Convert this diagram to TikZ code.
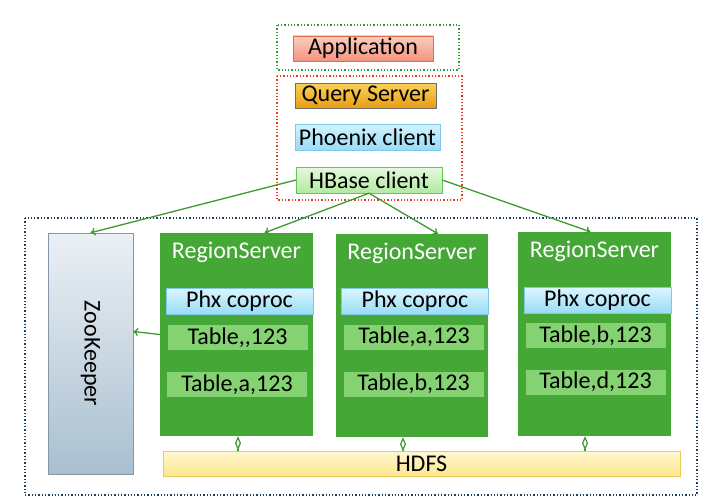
\documentclass[tikz,border=0pt]{standalone}
\usepackage{fontspec}
\setmainfont{Carlito}
\usepackage{tikz}
\usetikzlibrary{arrows.meta,positioning}
\definecolor{framegreen}{HTML}{2F9B34}
\definecolor{framered}{HTML}{E2401C}
\definecolor{frameblue}{HTML}{1F3D5C}
\definecolor{rsgreen}{HTML}{45A836}
\definecolor{rowgreen}{HTML}{84D271}
\definecolor{linkgreen}{HTML}{3C9A2E}
\definecolor{apptop}{HTML}{FBCDC2}
\definecolor{appbot}{HTML}{F4937E}
\definecolor{appline}{HTML}{E46C45}
\definecolor{qstop}{HTML}{FAD15A}
\definecolor{qsbot}{HTML}{E89E12}
\definecolor{qsline}{HTML}{6F6F6F}
\definecolor{pctop}{HTML}{D2F3FD}
\definecolor{pcbot}{HTML}{98DCF6}
\definecolor{pcline}{HTML}{7FC8E6}
\definecolor{hbtop}{HTML}{E4F9DC}
\definecolor{hbbot}{HTML}{B2E9A2}
\definecolor{hbline}{HTML}{6CC25A}
\definecolor{zktop}{HTML}{EBF0F5}
\definecolor{zkbot}{HTML}{A9BFCF}
\definecolor{zkline}{HTML}{8497A8}
\definecolor{hdtop}{HTML}{FFF8D2}
\definecolor{hdbot}{HTML}{FCE68E}
\definecolor{hdline}{HTML}{EEC95A}

\begin{document}
\begin{tikzpicture}[x=1pt,y=-1pt,
  box/.style={rectangle,inner sep=0pt,font=\fontsize{24}{26}\selectfont},
  clientbox/.style={box,minimum height=25pt},
  rsbox/.style={box,fill=rsgreen,minimum width=153pt,minimum height=203pt},
  rstitle/.style={box,text=white},
  phxbox/.style={box,draw=pcline,top color=pctop!80!white,bottom color=pcbot,minimum width=147pt,minimum height=26pt},
  rowbox/.style={box,fill=rowgreen,minimum width=140pt,minimum height=25pt},
  link/.style={linkgreen,line width=1.3pt,-{To[length=5pt,width=8pt]}},
  hdfslink/.style={linkgreen,line width=1.2pt,{Diamond[open,length=14pt,width=6pt]}-}]
\useasboundingbox (0,0) rectangle (720,503);
%dotted frames
\draw[framegreen,dotted,line width=1.3pt] (277,25) rectangle (459,70);
\draw[framered,dotted,line width=1.3pt] (277,76) rectangle (462,200);
\draw[frameblue,dotted,line width=1.3pt] (25,218) rectangle (697,495);
%client stack
\node[clientbox,draw=appline,top color=apptop,bottom color=appbot,minimum width=140pt] (app) at (363,48.5) {Application};
\node[clientbox,draw=qsline,top color=qstop,bottom color=qsbot,minimum width=141pt] (qs) at (365.5,95.5) {Query Server};
\node[clientbox,draw=pcline,top color=pctop,bottom color=pcbot,minimum width=145pt,minimum height=26pt] (pc) at (367.5,137) {Phoenix client};
\node[clientbox,draw=hbline,top color=hbtop,bottom color=hbbot,minimum width=146pt,minimum height=26pt] (hbc) at (369,180) {HBase client};
%zookeeper
\node[box,draw=zkline,top color=zktop,bottom color=zkbot,minimum width=85pt,minimum height=241pt] (zk) at (90.5,353.5) {};
\node[box,rotate=-90] (zkt) at (zk.center) {ZooKeeper};
%region servers
\node[rsbox] (rs1) at (236.5,334.5) {};
\node[rstitle,below=9pt of rs1.north] (rs1t) {RegionServer};
\node[phxbox] (phx1) at (239.5,301) {Phx coproc};
\node[rowbox] (r11) at (237.5,337.5) {Table{,}{,}123};
\node[rowbox] (r12) at (237,384.5) {Table,a,123};
\node[rsbox,minimum width=152pt] (rs2) at (412,335.5) {};
\node[rstitle,below=9pt of rs2.north] (rs2t) {RegionServer};
\node[phxbox] (phx2) at (415,301) {Phx coproc};
\node[rowbox] (r21) at (414,337) {Table,a,123};
\node[rowbox] (r22) at (413.5,384) {Table,b,123};
\node[rsbox,minimum height=204pt] (rs3) at (594.5,334) {};
\node[rstitle,below=9pt of rs3.north] (rs3t) {RegionServer};
\node[phxbox] (phx3) at (597.5,300.5) {Phx coproc};
\node[rowbox] (r31) at (595.5,335.5) {Table,b,123};
\node[rowbox] (r32) at (595.5,382) {Table,d,123};
%hdfs
\node[box,draw=hdline,top color=hdtop,bottom color=hdbot,minimum width=517pt,minimum height=25pt] (hdfs) at (421.5,463.5) {HDFS};
%client links
\draw[link] (hbc.west) -- (zk.north);
\draw[link] (hbc.south) -- ([xshift=28pt]rs1.north);
\draw[link] (hbc.south) -- ([xshift=26pt]rs2.north);
\draw[link] (hbc.east) -- ([xshift=-4pt]rs3.north);
\draw[link] (rs1.west) -- ([yshift=22pt]zk.east);
%hdfs links
\draw[hdfslink] ([xshift=1.5pt]rs1.south) -- ([xshift=1.5pt]rs1.south |- hdfs.north);
\draw[hdfslink] ([xshift=-9pt]rs2.south) -- ([xshift=-9pt]rs2.south |- hdfs.north);
\draw[hdfslink] ([xshift=-9.5pt]rs3.south) -- ([xshift=-9.5pt]rs3.south |- hdfs.north);
\end{tikzpicture}
\end{document}
